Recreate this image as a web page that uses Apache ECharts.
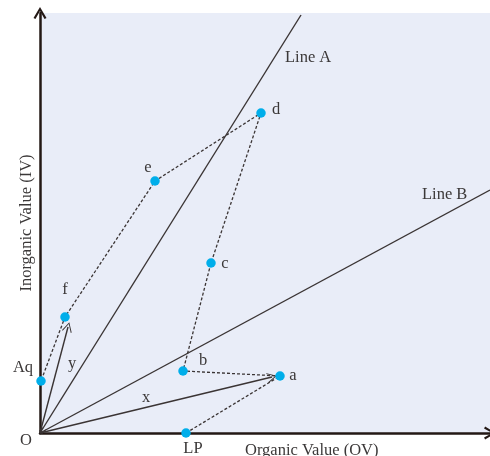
<!DOCTYPE html>
<html>
<head>
<meta charset="utf-8">
<script src="https://cdn.jsdelivr.net/npm/echarts@6/dist/echarts.min.js"></script>
<style>
html,body{margin:0;padding:0;background:#fff;}
#chart{width:490px;height:456px;}
</style>
</head>
<body>
<div id="chart"></div>
<script>
// ---- data ----
const pointNames = ['LP', 'a', 'b', 'c', 'd', 'e', 'f', 'Aq'];
const ovValues   = [146, 240, 143, 171, 221, 115, 25, 1];
const ivValues   = [0, 57, 62, 170, 320, 252, 116, 52];
const lineAEnd = [261, 418];
const lineBEnd = [450, 243];
const arrowXEnd = [232, 56];
const arrowYEnd = [28, 106];
const axisMax = [450, 420];

// ---- styling ----
const FONT = 'Liberation Serif';
const FS = 16.5;
const TXT = '#3b3838';
const labelOffsets = {
  LP: [7, 16], a: [13, 0], b: [20, -10], c: [14, 1],
  d: [15, -3], e: [-7, -13], f: [0, -27], Aq: [-18, -13]
};
const chevron = 'path://M0,0 L6,11 L5,11.6 L0,2.2 L-5,11.6 L-6,11 Z';
const axisChevron = 'path://M0,0 L6,10 L4.2,11 L0,3.6 L-4.2,11 L-6,10 Z';

const pts = pointNames.map((n, i) => [ovValues[i], ivValues[i]]);
const font = FS + 'px "' + FONT + '"';

const chart = echarts.init(document.getElementById('chart'));
chart.setOption({
  animation: false,
  grid: { left: 40, top: 13, right: 0, bottom: 23, show: true,
          backgroundColor: '#e9edf8', borderWidth: 0 },
  xAxis: {
    type: 'value', min: 0, max: axisMax[0],
    axisLine: { lineStyle: { color: '#231815', width: 2.5 },
                symbol: ['none', axisChevron], symbolSize: [13, 13] },
    axisTick: { show: false }, axisLabel: { show: false }, splitLine: { show: false }
  },
  yAxis: {
    type: 'value', min: 0, max: axisMax[1],
    name: 'Inorganic Value (IV)', nameLocation: 'middle', nameGap: 5, nameRotate: 90,
    nameTextStyle: { fontFamily: FONT, fontSize: FS, color: TXT },
    axisLine: { lineStyle: { color: '#231815', width: 2.5 },
                symbol: ['none', axisChevron], symbolSize: [13, 13] },
    axisTick: { show: false }, axisLabel: { show: false }, splitLine: { show: false }
  },
  graphic: [
    { type: 'text', left: 245, top: 442, style: { text: 'Organic Value (OV)', font: font, fill: TXT } },
    { type: 'text', x: 26, y: 441, style: { text: 'O', font: font, fill: TXT, align: 'center', verticalAlign: 'middle' } },
    { type: 'text', x: 285, y: 58, style: { text: 'Line A', font: font, fill: TXT, align: 'left', verticalAlign: 'middle' } },
    { type: 'text', x: 422, y: 195, style: { text: 'Line B', font: font, fill: TXT, align: 'left', verticalAlign: 'middle' } },
    { type: 'text', x: 146, y: 398, style: { text: 'x', font: font, fill: TXT, align: 'center', verticalAlign: 'middle' } },
    { type: 'text', x: 72, y: 364, style: { text: 'y', font: font, fill: TXT, align: 'center', verticalAlign: 'middle' } }
  ],
  series: [
    { type: 'line', data: [[0, 0], lineAEnd], symbol: 'none', clip: true,
      lineStyle: { color: '#3a3434', width: 1.4 }, silent: true },
    { type: 'line', data: [[0, 0], lineBEnd], symbol: 'none', clip: true,
      lineStyle: { color: '#3a3434', width: 1.4 }, silent: true },
    { type: 'lines', coordinateSystem: 'cartesian2d',
      symbol: [chevron, chevron], symbolSize: [10, 10],
      lineStyle: { color: '#3a3434', width: 1.4, opacity: 1 },
      data: [ { coords: [[0, 0], arrowXEnd] }, { coords: [[0, 0], arrowYEnd] } ] },
    { type: 'line', data: pts, symbol: 'none',
      lineStyle: { color: '#3a3434', width: 1.3, type: [3, 2] }, silent: true },
    { type: 'scatter', symbolSize: 9.5, z: 5,
      itemStyle: { color: '#00aeea', opacity: 1 },
      data: pointNames.map((n, i) => ({
        name: n, value: pts[i],
        label: { show: true, formatter: n, position: 'inside', offset: labelOffsets[n],
                 align: 'center', verticalAlign: 'middle',
                 fontFamily: FONT, fontSize: FS, color: TXT }
      }))
    }
  ]
});
</script>
</body>
</html>
